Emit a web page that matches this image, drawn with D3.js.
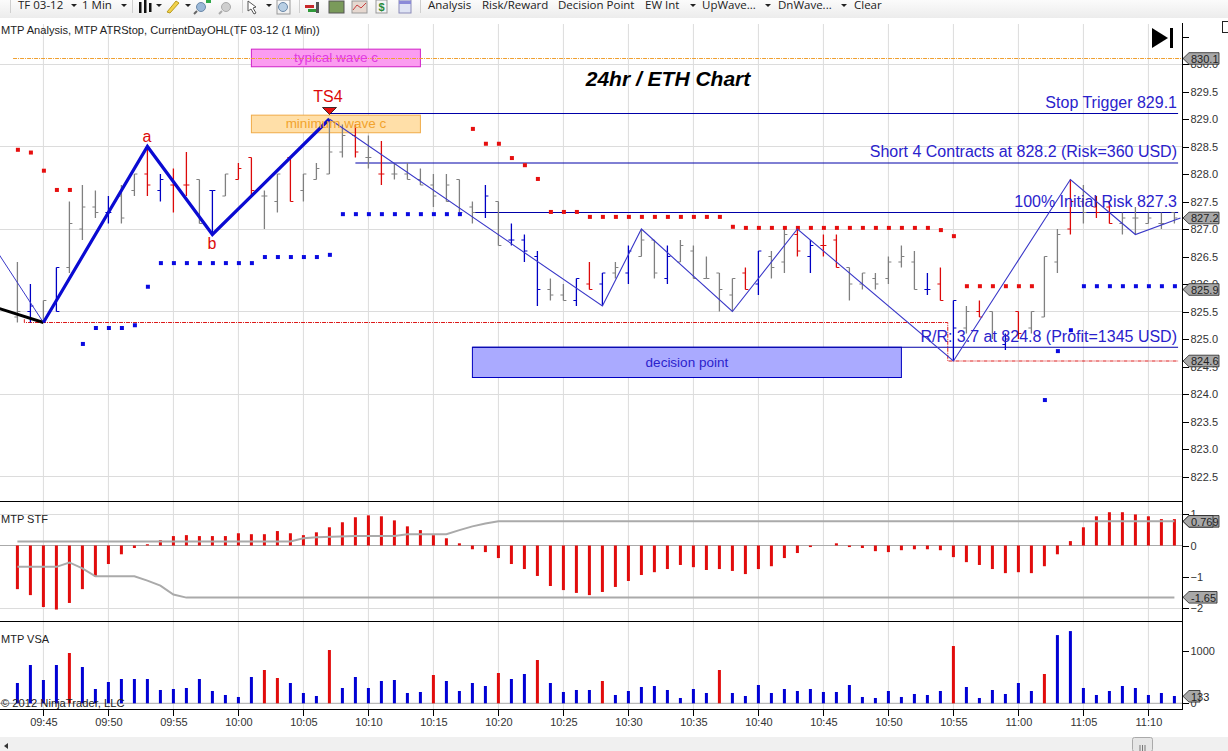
<!DOCTYPE html>
<html>
<head>
<meta charset="utf-8">
<script src="https://cdn.jsdelivr.net/npm/d3@7"></script>
<style>
    html, body { margin: 0; padding: 0; background: #fff; overflow: hidden; }
    svg { display: block; font-family: "Liberation Sans", Arial, sans-serif; }
    .axis text { font-size: 11px; fill: #333; font-family: "Liberation Sans", Arial, sans-serif; }
    .axis line, .axis path { stroke: #000; shape-rendering: crispEdges; }
</style>
</head>
<body>
<svg id="chart" width="1228" height="751"></svg>
<script>
// Bars, one per minute from 09:43 to 11:12
var barHigh = [
    826.4,826.0,825.7,826.3,827.5,827.8,827.7,827.6,827.8,828.0,
    828.5,828.0,828.1,828.4,827.9,827.7,828.0,828.2,828.3,827.7,
    828.0,828.3,828.0,828.2,829.0,828.9,828.9,828.7,828.6,828.2,
    828.2,828.1,828.0,828.0,827.9,827.5,827.8,827.5,827.1,826.9,
    826.6,826.1,826.0,826.1,826.4,826.2,826.4,826.7,827.0,826.8,
    826.7,826.8,826.7,826.5,826.2,826.1,826.3,826.6,826.6,827.0,
    827.0,826.8,826.9,826.9,826.3,826.2,826.2,826.5,826.7,826.6,
    826.2,826.3,825.7,825.6,825.7,825.5,825.1,825.5,825.5,826.5,
    827.0,827.9,827.8,827.6,827.5,827.3,827.4,827.3,827.3,827.3]
var barLow = [
    825.3,825.3,825.3,825.5,826.2,826.8,827.2,827.1,827.1,827.6,
    827.6,827.5,827.3,827.6,827.1,826.9,827.6,827.9,827.6,827.0,
    827.3,827.5,827.5,827.9,828.0,828.3,828.3,828.1,827.8,827.9,
    827.9,827.8,827.4,827.5,827.3,827.1,827.2,826.7,826.7,826.4,
    825.6,825.7,825.7,825.6,825.9,825.6,826.1,826.0,826.5,826.1,
    826.0,826.4,826.1,826.1,825.5,825.5,825.9,825.8,826.1,826.2,
    826.5,826.2,826.5,826.3,825.7,825.9,825.9,826.0,826.3,825.9,
    825.8,825.7,824.6,825.1,825.4,825.0,824.8,825.0,825.1,825.4,
    826.2,826.9,827.1,827.2,827.1,826.9,826.9,827.1,827.0,827.1]
var barOpen = [
    825.4,825.5,825.3,825.5,826.3,827.0,827.4,827.3,827.6,827.7,
    828.0,827.7,827.8,827.8,827.9,827.7,827.6,827.9,828.3,827.6,
    827.5,828.3,827.7,827.9,828.0,828.4,828.7,828.3,828.0,828.0,
    828.0,827.9,827.8,827.5,827.9,827.4,827.3,827.5,826.8,826.8,
    826.5,825.9,825.8,825.7,826.0,826.0,826.2,826.2,826.5,826.8,
    826.1,826.4,826.6,826.1,826.2,825.8,826.2,826.0,826.5,826.4,
    826.9,826.5,826.7,826.8,826.3,826.0,826.1,826.1,826.4,826.4,
    825.9,826.0,825.7,825.2,825.5,825.5,824.9,825.5,825.2,825.4,
    826.4,827.0,827.5,827.4,827.4,827.1,827.2,827.1,827.1,827.3]
var barClose = [
    825.5,825.6,825.7,826.3,827.1,827.4,827.3,827.3,827.2,828.0,
    827.8,827.9,827.8,827.8,827.1,827.7,828.0,828.1,827.7,827.6,
    828.0,827.5,828.0,828.1,828.4,828.7,828.4,828.3,828.0,828.0,
    827.9,827.8,827.6,827.8,827.3,827.3,827.6,826.7,826.8,826.6,
    825.9,825.8,825.7,826.1,825.9,826.2,826.3,826.6,826.8,826.2,
    826.5,826.7,826.1,826.1,825.9,826.1,825.9,826.6,826.3,826.9,
    826.6,826.7,826.7,826.3,826.0,826.2,826.0,826.4,826.5,825.9,
    825.9,825.7,825.2,825.5,825.4,825.1,825.0,825.1,825.5,826.5,
    826.9,827.5,827.3,827.3,827.1,827.2,827.2,827.2,827.1,827.2]
var blueBars = ['09:44','09:46','09:50','09:54','09:58','10:19','10:21','10:22','10:23','10:26','10:28','10:30','10:33','10:40','10:44','10:53','10:55','10:59']
var redBars = ['09:53','09:55','09:56','10:00','10:01','10:04','10:09','10:11','10:27','10:39','10:43','10:45','10:46','10:54','10:57','11:00','11:04','11:06','11:07']
var openOnRight = ['09:46','10:16','10:55']

// ATR stop dots
var stopLevel = [
    828.44,828.39,828.06,827.71,827.71,824.91,825.2,825.2,825.2,825.25,
    825.95,826.38,826.38,826.38,826.38,826.38,826.38,826.38,826.38,826.49,
    826.49,826.49,826.49,826.49,826.53,827.27,827.27,827.27,827.27,827.27,
    827.27,827.27,827.27,827.27,827.27,828.82,828.55,828.55,828.29,828.16,
    827.91,827.31,827.31,827.31,827.22,827.22,827.22,827.22,827.22,827.22,
    827.22,827.22,827.22,827.22,827.22,827.04,827.02,827.02,827.02,827.02,
    827.02,827.02,827.02,827.02,827.02,827.02,827.02,827.02,827.02,827.02,
    827.02,826.98,826.87,825.96,825.96,825.96,825.96,825.96,825.96,823.89,
    824.78,825.16,825.96,825.96,825.96,825.96,825.96,825.96,825.96,825.96]
var redStopSpans = [['09:43','09:47'],['10:18','11:01']]

// Wave lines
var blackTimes = ['09:41','09:45']
var blackPrices = [825.6,825.3]
var thickTimes = ['09:45','09:53','09:58','10:07']
var thickPrices = [825.3,828.5,826.9,829.0]
var earlyTimes = ['09:41','09:45']
var earlyPrices = [826.75,825.3]
var thinTimes = ['10:07','10:28','10:31','10:38','10:43','10:55','11:04','11:09','11:12:28']
var thinPrices = [829.0,825.6,827.0,825.5,827.0,824.6,827.9,826.9,827.2]

// Trade levels
var levelStarts = ['10:07','10:09','10:18','10:18']
var levelEnd = '11:12:17'
var levelPrices = [829.1,828.2,827.3,824.85]
var levelLabels = ['Stop Trigger 829.1','Short 4 Contracts at 828.2 (Risk=360 USD)','100% Initial Risk 827.3','R/R: 3.7 at 824.8 (Profit=1345 USD)']

var targetTimes = ['09:43:32','09:43:32','10:54:34','10:54:34','11:12:17']
var targetPrices = [825.36,825.3,825.3,824.6,824.6]

// Boxes
var boxStarts = ['10:01','10:01','10:18']
var boxEnds = ['10:14','10:14','10:51']
var boxTops = [830.27,829.07,824.85]
var boxBottoms = [829.95,828.75,824.3]
var boxLabels = ['typical wave c','minimum wave c','decision point']

// MTP STF
var stfValues = [
    -1.39,-1.58,-1.96,-2.04,-1.83,-1.39,-0.99,-0.59,-0.28,-0.08,
    0.04,0.17,0.30,0.33,0.30,0.30,0.30,0.39,0.36,0.36,
    0.46,0.39,0.33,0.42,0.58,0.74,0.90,0.96,0.93,0.80,
    0.61,0.49,0.33,0.23,0.07,-0.12,-0.21,-0.40,-0.59,-0.75,
    -0.97,-1.29,-1.42,-1.51,-1.58,-1.48,-1.32,-1.13,-0.94,-0.85,
    -0.75,-0.62,-0.69,-0.78,-0.75,-0.81,-0.91,-0.75,-0.66,-0.40,
    -0.24,-0.05,0,0.07,-0.05,-0.08,-0.18,-0.21,-0.15,-0.12,
    -0.12,-0.15,-0.37,-0.53,-0.62,-0.75,-0.88,-0.85,-0.88,-0.66,
    -0.28,0.14,0.58,0.93,1.06,1.06,0.99,0.93,0.84,0.84]
var stfUpperTimes = ['09:43','10:04','10:05','10:06','10:09','10:12','10:13','10:16','10:17','10:18','10:19','10:20','11:12']
var stfUpper = [0.13,0.13,0.23,0.26,0.30,0.30,0.36,0.36,0.49,0.61,0.70,0.769,0.769]
var stfLowerTimes = ['09:43','09:46','09:47','09:48','09:49','09:52','09:53','09:54','09:55','09:56','11:12']
var stfLower = [-0.68,-0.68,-0.54,-0.73,-0.98,-0.98,-1.12,-1.28,-1.56,-1.66,-1.66]

// MTP VSA
var vsaValues = [
    386,728,443,728,956,690,272,405,462,462,
    462,253,272,291,462,234,158,120,500,633,
    481,386,196,139,1013,291,500,291,424,443,
    196,215,538,424,234,386,329,576,462,557,
    823,386,215,253,253,424,158,234,310,329,
    253,101,272,196,633,196,139,348,196,272,
    234,272,215,215,348,120,101,234,120,177,
    158,234,1089,310,101,253,177,386,234,557,
    1297,1373,291,158,234,329,291,158,196,139]
var vsaRedBars = ['09:47','10:02','10:03','10:07','10:15','10:20','10:23','10:28','10:37','10:55','11:02']

// Axis ticks
var timeTicks = ['09:45','09:50','09:55','10:00','10:05','10:10','10:15','10:20','10:25','10:30','10:35','10:40','10:45','10:50','10:55','11:00','11:05','11:10']
var priceTicks = [822.5,823,823.5,824,824.5,825,825.5,826,826.5,827,827.5,828,828.5,829,829.5,830,830.5]
var priceGrid = [822.5,824,825.5,827,828.5,830]
var stfTicks = [-2,-1,0,1]
var vsaTicks = [0,1000]

// Price flags on the axis
var priceFlags = [830.1,827.2,825.9,824.6]

// Toolbar
var menuLabels = ['Analysis','Risk/Reward','Decision Point','EW Int','UpWave...','DnWave...','Clear']
var menuLeft = [428,482,558,645,702,778,854]
var caretLeft = [71,121,156,185,266,690,765,841]
var separatorLeft = [10,132,242,299,420]

const parseMinute = d3.timeParse('%H:%M')
const parseSecond = d3.timeParse('%H:%M:%S')
function t(s) {
    return s.length > 5 ? parseSecond(s) : parseMinute(s)
}
const fmt = d3.timeFormat('%H:%M')
var barTimes = d3.timeMinute.range(t('09:43'), d3.timeMinute.offset(t('11:12'), 1))
var bars = barTimes.map((d, i) => ({
    time: d, label: fmt(d), high: barHigh[i], low: barLow[i], open: barOpen[i], close: barClose[i],
    stop: stopLevel[i], stf: stfValues[i], vsa: vsaValues[i]
}))

// Colours
const BLUE = '#0000c4', RED = '#dc0a0a', GRAY = '#808080', TEXT_BLUE = '#2a22cc'
const GRID = '#dcdcdc'
const panelRight = 1182.5

// Scales
var x = d3.scaleTime().domain([t('09:45'), t('11:10')]).range([43.4, 1148.4])
var y = d3.scaleLinear().domain([829, 824]).range([119, 394])
var yStf = d3.scaleLinear().domain([0, -2]).range([545.5, 608.3])
var yVsa = d3.scaleLinear().domain([0, 1000]).range([703.3, 650.7])

var svg = d3.select('#chart')

// Toolbar + bottom strip
var defs = svg.append('defs')
var grad = defs.append('linearGradient').attr('id', 'toolbar').attr('x1', 0).attr('x2', 0).attr('y1', 0).attr('y2', 1)
grad.append('stop').attr('offset', '0%').attr('stop-color', '#fbfbfb')
grad.append('stop').attr('offset', '100%').attr('stop-color', '#ececec')
svg.append('rect').attr('width', 1228).attr('height', 18).attr('fill', 'url(#toolbar)')
svg.append('rect').attr('y', 737).attr('width', 1228).attr('height', 14).attr('fill', '#f0f0f0')

svg.selectAll('.sep').data(separatorLeft).enter().append('line')
    .attr('x1', d => d + 0.5).attr('x2', d => d + 0.5).attr('y1', 0).attr('y2', 13)
    .attr('stroke', '#cfcfcf')
svg.selectAll('.caret').data(caretLeft).enter().append('path')
    .attr('d', d => 'M' + d + ',4h6l-3,3z').attr('fill', '#222')
svg.append('g').selectAll('text').data(['TF 03-12', '1 Min']).enter().append('text')
    .attr('x', (d, i) => [18, 82][i]).attr('y', 9)
    .attr('font-family', '"Open Sans", sans-serif').attr('font-size', 11.5).attr('fill', '#222').text(d => d)
svg.append('g').selectAll('text').data(menuLabels).enter().append('text')
    .attr('x', (d, i) => menuLeft[i]).attr('y', 9)
    .attr('font-family', '"Open Sans", sans-serif').attr('font-size', 11.5).attr('fill', '#222').text(d => d)

// Toolbar icons, only roughly
function icon(tag, attrs) {
    var el = svg.append(tag)
    Object.keys(attrs).forEach(k => el.attr(k, attrs[k]))
}
;[[139, 2, 11], [144, 0, 13], [149, 3, 9]].forEach(b => icon('rect', { x: b[0], y: b[1], width: 2.5, height: b[2], fill: '#111' }))
icon('path', { d: 'M167,12l9,-11l3,2l-9,10z', fill: '#f2d24a', stroke: '#b89a20' })
icon('circle', { cx: 201, cy: 7, r: 4.5, fill: '#9ab8d8', stroke: '#6a88a8' })
icon('path', { d: 'M197,11l-3,3', stroke: '#666', 'stroke-width': 2 })
icon('rect', { x: 206, y: 0, width: 5, height: 3, fill: '#2fa84a' })
icon('circle', { cx: 226, cy: 7, r: 4.5, fill: '#cfcfcf', stroke: '#aaa' })
icon('path', { d: 'M222,11l-3,3', stroke: '#aaa', 'stroke-width': 2 })
icon('path', { d: 'M248,1l8,6l-3,1l3,5l-2,1l-3,-5l-3,2z', fill: '#fff', stroke: '#555' })
icon('circle', { cx: 283, cy: 7, r: 4.5, fill: '#b8cfe4', stroke: '#6a88a8' })
icon('rect', { x: 277, y: 0, width: 13, height: 14, fill: 'none', stroke: '#999' })
icon('rect', { x: 305, y: 5, width: 9, height: 3, fill: '#c8282a' })
icon('rect', { x: 308, y: 9, width: 8, height: 3, fill: '#2f9a3a' })
icon('rect', { x: 316, y: 2, width: 3, height: 11, fill: '#555' })
icon('rect', { x: 329, y: 1, width: 15, height: 12, fill: '#7a9a5a', stroke: '#555' })
icon('rect', { x: 352, y: 1, width: 15, height: 12, fill: '#e6d8d0', stroke: '#999' })
icon('path', { d: 'M353,10l4,-5l4,3l5,-5', fill: 'none', stroke: '#c84040' })
icon('rect', { x: 376, y: 0, width: 11, height: 13, fill: '#f4f4f4', stroke: '#999' })
svg.append('text').attr('x', 381.5).attr('y', 11).attr('text-anchor', 'middle').attr('font-size', 11).attr('font-weight', 'bold').attr('fill', '#2a8a3a').text('$')
icon('rect', { x: 399, y: 0, width: 12, height: 13, fill: '#dfe4f4', stroke: '#8a8ab8' })
icon('rect', { x: 399, y: 1, width: 12, height: 3, fill: '#8a8ad8' })

// Scrollbar
svg.append('path').attr('d', 'M4,746l4,-3v6z').attr('fill', '#333')
svg.append('rect').attr('x', 1132.5).attr('y', 737.5).attr('width', 20).attr('height', 14)
    .attr('fill', '#e6e6e6').attr('stroke', '#aaa').attr('rx', 2)
svg.selectAll('.grip').data([1140, 1142.5, 1145]).enter().append('line')
    .attr('x1', d => d).attr('x2', d => d).attr('y1', 745).attr('y2', 751).attr('stroke', '#777')

// Grid
svg.selectAll('.vgrid').data(timeTicks).enter().append('line')
    .attr('x1', d => x(t(d))).attr('x2', d => x(t(d))).attr('y1', 24).attr('y2', 709)
    .attr('stroke', GRID).attr('stroke-width', 1)
svg.selectAll('.hgrid').data(priceGrid).enter().append('line')
    .attr('x1', 0).attr('x2', panelRight).attr('y1', d => y(d)).attr('y2', d => y(d))
    .attr('stroke', GRID).attr('shape-rendering', 'crispEdges')
svg.selectAll('.sgrid').data([1, -2]).enter().append('line')
    .attr('x1', 0).attr('x2', panelRight).attr('y1', d => yStf(d)).attr('y2', d => yStf(d))
    .attr('stroke', GRID).attr('shape-rendering', 'crispEdges')

// Boxes
const boxFill = ['#fb9cf0', '#ffdfa8', '#aaaaff']
const boxStroke = ['#d022c8', '#f0ab48', '#0000c0']
const boxText = ['#e23ae0', '#f2a32c', '#2a22cc']
boxLabels.forEach((label, i) => {
    var x0 = x(t(boxStarts[i])), x1 = x(t(boxEnds[i]))
    svg.append('rect').attr('x', x0).attr('y', y(boxTops[i])).attr('width', x1 - x0)
        .attr('height', y(boxBottoms[i]) - y(boxTops[i]))
        .attr('fill', boxFill[i]).attr('stroke', boxStroke[i])
})

// Orange level + red target
svg.append('line').attr('x1', x(t('09:42:40'))).attr('x2', panelRight).attr('y1', y(830.1)).attr('y2', y(830.1))
    .attr('stroke', '#f0a030').attr('stroke-dasharray', '4,1,1,1')

function wave(times, prices) {
    return d3.line().x(d => x(t(d))).y((d, i) => y(prices[i]))(times)
}
svg.append('path').attr('d', wave(targetTimes, targetPrices)).attr('fill', 'none')
    .attr('stroke', '#dc1a1a').attr('stroke-dasharray', '4,1,1,1')

// Trade levels
levelPrices.forEach((p, i) => {
    svg.append('line').attr('x1', x(t(levelStarts[i]))).attr('x2', x(t(levelEnd)))
        .attr('y1', y(p)).attr('y2', y(p))
        .attr('stroke', '#0000a8').attr('stroke-width', 1)
})

// Bars
function barColor(d) {
    if (blueBars.includes(d.label)) return BLUE
    if (redBars.includes(d.label)) return RED
    return GRAY
}
var barG = svg.append('g')
barG.selectAll('.hl').data(bars).enter().append('line')
    .attr('x1', d => x(d.time)).attr('x2', d => x(d.time))
    .attr('y1', d => y(d.high)).attr('y2', d => y(d.low))
    .attr('stroke', barColor).attr('stroke-width', 1.3)
barG.selectAll('.op').data(bars).enter().append('line')
    .attr('x1', d => x(d.time) + (openOnRight.includes(d.label) ? 3 : -3)).attr('x2', d => x(d.time))
    .attr('y1', d => y(d.open)).attr('y2', d => y(d.open))
    .attr('stroke', barColor).attr('stroke-width', 1)
barG.selectAll('.cl').data(bars).enter().append('line')
    .attr('x1', d => x(d.time)).attr('x2', d => x(d.time) + 3)
    .attr('y1', d => y(d.close)).attr('y2', d => y(d.close))
    .attr('stroke', barColor).attr('stroke-width', 1)

// Stop dots
function stopIsRed(d) {
    return redStopSpans.some(s => d.time >= t(s[0]) && d.time <= t(s[1]))
}
svg.selectAll('.stop').data(bars).enter().append('rect')
    .attr('x', d => x(d.time) - 2 + 0.5).attr('y', d => y(d.stop) - 2)
    .attr('width', 4).attr('height', 4)
    .attr('fill', d => stopIsRed(d) ? '#e60f0f' : '#0a0ae0')

// Wave lines
svg.append('path').attr('d', wave(earlyTimes, earlyPrices)).attr('fill', 'none').attr('stroke', '#3a38c8').attr('stroke-width', 1)
svg.append('path').attr('d', wave(blackTimes, blackPrices)).attr('fill', 'none').attr('stroke', '#000').attr('stroke-width', 3)
svg.append('path').attr('d', wave(thickTimes, thickPrices)).attr('fill', 'none').attr('stroke', '#0a0ad2').attr('stroke-width', 3.2).attr('stroke-linejoin', 'miter')
svg.append('path').attr('d', wave(thinTimes, thinPrices)).attr('fill', 'none').attr('stroke', '#3a38c8').attr('stroke-width', 1.1)

// Box text goes above the lines
boxLabels.forEach((label, i) => {
    svg.append('text').attr('x', (x(t(boxStarts[i])) + x(t(boxEnds[i]))) / 2)
        .attr('y', (y(boxTops[i]) + y(boxBottoms[i])) / 2 + 4.5)
        .attr('text-anchor', 'middle').attr('font-size', 13.5).attr('fill', boxText[i]).text(label)
})

// Level labels
const labelBaseline = [108, 157, 207, 342]
levelLabels.forEach((label, i) => {
    svg.append('text').attr('x', 1177).attr('y', labelBaseline[i])
        .attr('text-anchor', 'end').attr('font-size', 16).attr('fill', TEXT_BLUE).text(label)
})

// Wave labels
svg.append('text').attr('x', 147).attr('y', 142).attr('text-anchor', 'middle').attr('font-size', 16).attr('fill', RED).text('a')
svg.append('text').attr('x', 212).attr('y', 249).attr('text-anchor', 'middle').attr('font-size', 16).attr('fill', RED).text('b')
svg.append('text').attr('x', 328).attr('y', 102).attr('text-anchor', 'middle').attr('font-size', 16).attr('fill', RED).text('TS4')
svg.append('path').attr('d', 'M322.5,107.5h14l-7,7z').attr('fill', '#e60f0f').attr('stroke', '#111').attr('stroke-width', 0.8)

// Title + headers
svg.append('text').attr('x', 668).attr('y', 86).attr('text-anchor', 'middle')
    .attr('font-size', 21).attr('font-weight', 'bold').attr('font-style', 'italic').attr('fill', '#000').text('24hr / ETH Chart')
svg.append('text').attr('x', 1).attr('y', 34).attr('font-size', 11.1).attr('fill', '#222')
    .text('MTP Analysis, MTP ATRStop, CurrentDayOHL(TF 03-12 (1 Min))')
svg.append('text').attr('x', 1).attr('y', 523).attr('font-size', 11).attr('fill', '#222').text('MTP STF')
svg.append('text').attr('x', 1).attr('y', 643).attr('font-size', 11).attr('fill', '#222').text('MTP VSA')

// End-of-chart marker
svg.append('path').attr('d', 'M1152,28v20l16,-10z').attr('fill', '#000')
svg.append('rect').attr('x', 1170).attr('y', 28).attr('width', 3).attr('height', 20).attr('fill', '#000')
svg.append('rect').attr('x', 1222.5).attr('y', 21.5).attr('width', 6).attr('height', 11).attr('fill', '#fff').attr('stroke', '#222')

// STF panel
svg.append('line').attr('x1', 0).attr('x2', panelRight).attr('y1', yStf(0)).attr('y2', yStf(0)).attr('stroke', '#aaa')
svg.selectAll('.stf').data(bars).enter().append('rect')
    .attr('x', d => x(d.time) - 1.5).attr('width', 3)
    .attr('y', d => Math.min(yStf(d.stf), yStf(0)))
    .attr('height', d => Math.abs(yStf(d.stf) - yStf(0)))
    .attr('fill', '#e10c0c')
svg.append('path').attr('fill', 'none').attr('stroke', '#aaa').attr('stroke-width', 2)
    .attr('d', d3.line().x(d => x(t(d))).y((d, i) => yStf(stfUpper[i]))(stfUpperTimes))
svg.append('path').attr('fill', 'none').attr('stroke', '#aaa').attr('stroke-width', 2)
    .attr('d', d3.line().x(d => x(t(d))).y((d, i) => yStf(stfLower[i]))(stfLowerTimes))

// VSA panel
svg.append('line').attr('x1', 0).attr('x2', panelRight).attr('y1', yVsa(0)).attr('y2', yVsa(0)).attr('stroke', '#aaa').attr('stroke-width', 1)
svg.selectAll('.vsa').data(bars).enter().append('rect')
    .attr('x', d => x(d.time) - 1.5).attr('width', 3)
    .attr('y', d => yVsa(d.vsa)).attr('height', d => yVsa(0) - yVsa(d.vsa))
    .attr('fill', d => vsaRedBars.includes(d.label) ? '#e10c0c' : '#0000d4')
svg.append('text').attr('x', 1).attr('y', 707).attr('font-size', 11.2).attr('fill', '#222').text('\u00a9 2012 NinjaTrader, LLC')

// Panel borders
svg.selectAll('.border').data([501, 621, 709]).enter().append('line')
    .attr('x1', 0).attr('x2', panelRight).attr('y1', d => d + 0.5).attr('y2', d => d + 0.5).attr('stroke', '#000')

// Axes
var priceAxis = d3.axisRight(y).tickValues(priceTicks).tickSize(6).tickPadding(2)
    .tickFormat(d => d === 830.5 ? '' : d.toFixed(1))
var stfAxis = d3.axisRight(yStf).tickValues(stfTicks).tickSize(6).tickPadding(2).tickFormat(d3.format('d'))
var vsaAxis = d3.axisRight(yVsa).tickValues(vsaTicks).tickSize(6).tickPadding(2).tickFormat(d3.format('d'))
var timeAxis = d3.axisBottom(x).tickValues(timeTicks.map(t)).tickSize(6).tickPadding(3).tickFormat(fmt)

svg.append('g').attr('class', 'axis').attr('transform', 'translate(' + panelRight + ',0)').call(priceAxis)
svg.append('g').attr('class', 'axis').attr('transform', 'translate(' + panelRight + ',0)').call(stfAxis)
svg.append('g').attr('class', 'axis').attr('transform', 'translate(' + panelRight + ',0)').call(vsaAxis)
svg.append('g').attr('class', 'axis').attr('transform', 'translate(0,709.5)').call(timeAxis)
svg.selectAll('.axis .domain').remove()
svg.append('line').attr('x1', panelRight).attr('x2', panelRight).attr('y1', 23).attr('y2', 709.5).attr('stroke', '#000').attr('shape-rendering', 'crispEdges')

// Flags on the right axis
function flag(py, label, right) {
    var left = panelRight + 0.5
    svg.append('path')
        .attr('d', 'M' + left + ',' + py + 'l6,-5.8H' + right + 'v11.6H' + (left + 6) + 'z')
        .attr('fill', '#a8a8a8').attr('stroke', '#222').attr('stroke-width', 0.8)
    svg.append('text').attr('x', left + 8).attr('y', py + 4.2).attr('font-size', 11).attr('fill', '#222').text(label)
}
priceFlags.forEach(p => flag(y(p), p.toFixed(1), 1219))
flag(yStf(0.769), '0.769', 1219)
flag(yStf(0.769), '0.76', 1213)
flag(yStf(-1.65), '-1.65', 1217)
flag(yVsa(133), '133', 1200)
</script>
</body>
</html>
